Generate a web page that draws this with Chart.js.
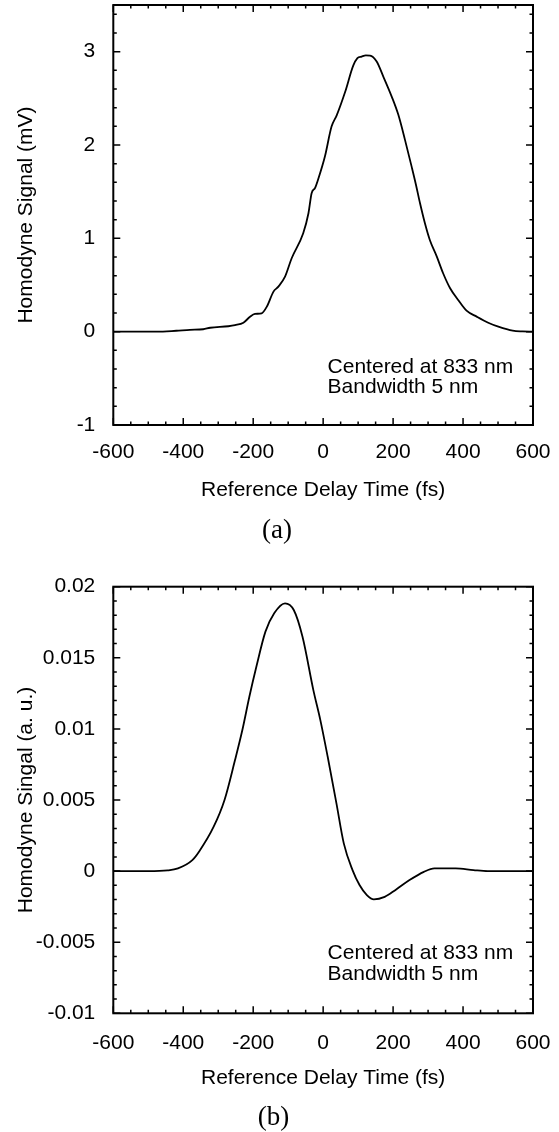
<!DOCTYPE html>
<html>
<head>
<meta charset="utf-8">
<script src="https://cdn.jsdelivr.net/npm/chart.js@4.4.1/dist/chart.umd.min.js"></script>
<style>
  html, body { margin: 0; padding: 0; background: #fff; }
  #page { position: relative; width: 559px; height: 1132px; overflow: hidden;
          font-family: "Liberation Sans", Arial, sans-serif; color: #000; }
  .box { position: absolute; left: 0; width: 559px; }
  .note { position: absolute; font-size: 21px; line-height: 20.3px; white-space: nowrap; }
  .tag { position: absolute; width: 100px; text-align: center;
         font-family: "Liberation Serif", "Times New Roman", serif; font-size: 27px; line-height: 27px; }
</style>
</head>
<body>
<div id="page">
  <div class="box" style="top:0;height:520px"><canvas id="chartA"></canvas></div>
  <div class="box" style="top:560px;height:572px"><canvas id="chartB"></canvas></div>
  <div class="note" style="left:327.6px;top:355.8px">Centered at 833 nm<br>Bandwidth 5 nm</div>
  <div class="note" style="left:327.6px;top:942.4px">Centered at 833 nm<br>Bandwidth 5 nm</div>
  <div class="tag" style="left:227px;top:515.8px">(a)</div>
  <div class="tag" style="left:223.5px;top:1103.1px">(b)</div>
</div>
<script>
// (a) measured homodyne signal, mV
const delayA = [-600, -476, -420, -381, -343, -323, -271, -252, -228, -209, -195, -176, -161, -142, -128,
  -109, -90, -57, -42, -33, -23, -14, 5, 24, 39, 63, 86, 98, 110, 122, 134, 153, 172, 196, 215, 234,
  253, 265, 277, 291, 305, 325, 343, 363, 386, 410, 439, 472, 501, 542, 570, 600];
const signalA = [0, 0, 0.01, 0.02, 0.026, 0.042, 0.058, 0.07, 0.096, 0.16, 0.19, 0.197, 0.268, 0.429, 0.482,
  0.589, 0.787, 1.055, 1.269, 1.483, 1.54, 1.635, 1.876, 2.197, 2.32, 2.57, 2.85, 2.93, 2.947, 2.96, 2.958,
  2.894, 2.733, 2.519, 2.323, 2.055, 1.768, 1.58, 1.376, 1.162, 0.983, 0.804, 0.626, 0.465, 0.34, 0.225,
  0.161, 0.096, 0.054, 0.011, 0.003, 0];

// (b) simulated homodyne signal, a.u.
const delayB = [-600, -500, -445, -415, -374, -354, -313, -282, -252, -231, -211, -191, -165, -140, -109,
  -84, -59, -28, -8, 13, 38, 59, 84, 104, 125, 145, 176, 206, 247, 288, 318, 379, 430, 471, 600];
const signalB = [0, 0, 0.00005, 0.00019, 0.00077, 0.0014, 0.00312, 0.005, 0.00781, 0.00992, 0.01226, 0.01437,
  0.01684, 0.01813, 0.01883, 0.01836, 0.01648, 0.01273, 0.01062, 0.00804, 0.00476, 0.00195,
  0.00007, -0.00098, -0.00169, -0.00199, -0.00181, -0.00134, -0.00063, -0.00005, 0.00019, 0.00019,
  0.00007, 0, 0];

const xTicks = [-600, -400, -200, 0, 200, 400, 600];
const xTickLabels = ["-600", "-400", "-200", "0", "200", "400", "600"];
const yTicksA = [-1, 0, 1, 2, 3];
const yTickLabelsA = ["-1", "0", "1", "2", "3"];
const yTicksB = [-0.01, -0.005, 0, 0.005, 0.01, 0.015, 0.02];
const yTickLabelsB = ["-0.01", "-0.005", "0", "0.005", "0.01", "0.015", "0.02"];

const FONT = { family: '"Liberation Sans", Arial, sans-serif', size: 21 };

// box + inward ticks on all four sides
const frameTicks = {
  id: "frameTicks",
  afterDatasetsDraw(chart, args, o) {
    const { ctx, chartArea: a, scales: { x, y } } = chart;
    const steps = (min, max, step) => {
      const n = Math.round((max - min) / step), out = [];
      for (let k = 0; k <= n; k++) out.push(min + k * step);
      return out;
    };
    const major = (v, list, step) => list.some(m => Math.abs(m - v) < step / 10);
    ctx.save();
    ctx.strokeStyle = "#000";
    ctx.lineWidth = 1.5;
    ctx.beginPath();
    for (const v of steps(x.min, x.max, o.xMinor)) {
      const px = x.getPixelForValue(v);
      const len = major(v, o.xMajor, o.xMinor) ? 7 : 3.5;
      ctx.moveTo(px, a.bottom); ctx.lineTo(px, a.bottom - len);
      ctx.moveTo(px, a.top); ctx.lineTo(px, a.top + len);
    }
    for (const v of steps(y.min, y.max, o.yMinor)) {
      const py = y.getPixelForValue(v);
      const len = major(v, o.yMajor, o.yMinor) ? 7 : 3.5;
      ctx.moveTo(a.left, py); ctx.lineTo(a.left + len, py);
      ctx.moveTo(a.right, py); ctx.lineTo(a.right - len, py);
    }
    ctx.stroke();
    ctx.lineWidth = 2;
    ctx.strokeRect(a.left, a.top, a.right - a.left, a.bottom - a.top);
    ctx.restore();
  }
};

function makeChart(id, cfg) {
  const pts = cfg.xs.map((t, i) => ({ x: t, y: cfg.ys[i] }));
  return new Chart(document.getElementById(id), {
    type: "line",
    data: { datasets: [{ data: pts, borderColor: "#000", borderWidth: 1.8, pointRadius: 0,
      fill: false, cubicInterpolationMode: "monotone" }] },
    plugins: [frameTicks],
    options: {
      responsive: true, maintainAspectRatio: false, animation: false,
      layout: { padding: { left: 0, right: 26, top: cfg.top, bottom: 0 } },
      plugins: {
        legend: { display: false }, tooltip: { enabled: false },
        frameTicks: { xMinor: 50, xMajor: xTicks, yMinor: cfg.yMinor, yMajor: cfg.yTicks }
      },
      scales: {
        x: {
          type: "linear", min: -600, max: 600,
          grid: { display: false }, border: { display: false },
          afterBuildTicks: s => { s.ticks = xTicks.map(v => ({ value: v })); },
          afterFit: s => { s.height = cfg.xHeight; s.paddingLeft = 0; s.paddingRight = 0; },
          ticks: { color: "#000", font: FONT, padding: cfg.xPad, maxRotation: 0,
            callback: v => xTickLabels[xTicks.indexOf(v)] },
          title: { display: true, text: "Reference Delay Time (fs)", color: "#000", font: FONT,
            padding: { top: 0, bottom: cfg.xTitlePad } }
        },
        y: {
          type: "linear", min: cfg.yMin, max: cfg.yMax,
          grid: { display: false }, border: { display: false },
          afterBuildTicks: s => { s.ticks = cfg.yTicks.map(v => ({ value: v })); },
          afterFit: s => { s.width = 113.3; s.paddingTop = 0; s.paddingBottom = 0; },
          ticks: { color: "#000", font: FONT, padding: 10,
            callback: v => cfg.yLabels[cfg.yTicks.indexOf(v)] },
          title: { display: true, text: cfg.yTitle, color: "#000", font: FONT,
            padding: { top: 13.4, bottom: 0 } }
        }
      }
    }
  });
}

makeChart("chartA", {
  xs: delayA, ys: signalA, yMin: -1, yMax: 3.5, yMinor: 0.2,
  yTicks: yTicksA, yLabels: yTickLabelsA, yTitle: "Homodyne Signal (mV)",
  top: 5, xHeight: 95, xPad: 7, xTitlePad: 17.4
});

makeChart("chartB", {
  xs: delayB, ys: signalB, yMin: -0.01, yMax: 0.02, yMinor: 0.001,
  yTicks: yTicksB, yLabels: yTickLabelsB, yTitle: "Homodyne Singal (a. u.)",
  top: 26.7, xHeight: 118.7, xPad: 9, xTitlePad: 41.4
});
</script>
</body>
</html>
